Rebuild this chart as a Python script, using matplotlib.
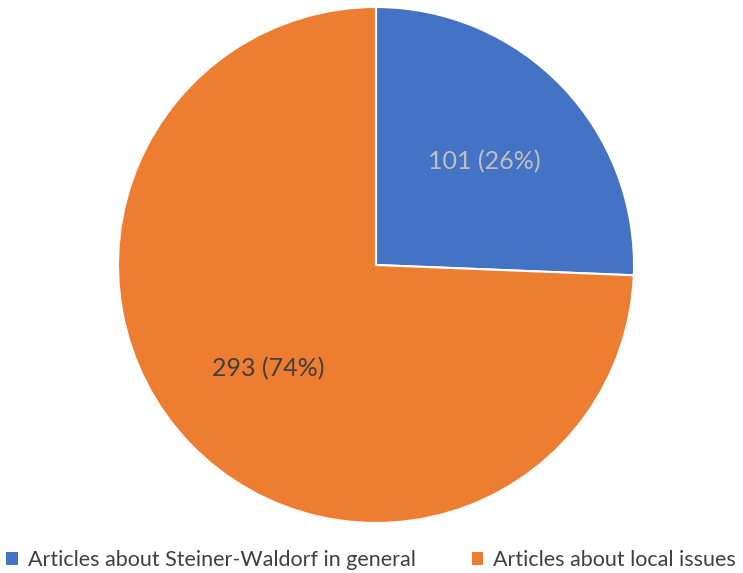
import matplotlib
matplotlib.use("Agg")
from matplotlib import pyplot as plt

plt.rcParams['font.family'] = ['Lato', 'DejaVu Sans']

labels = ['Articles about Steiner-Waldorf in general', 'Articles about local issues']
counts = [101, 293]
colors = ['#4472c4', '#ed7d31']
text_colors = ['#bfbfbf', '#404040']

fig = plt.figure(figsize=(7.43, 5.73), dpi=100)
ax = fig.add_axes([118 / 743, 50 / 573, 516 / 743, 516 / 573])

total = sum(counts)
wedges, texts, autotexts = ax.pie(
    counts, colors=colors, startangle=90, counterclock=False,
    autopct=lambda p: '%d (%d%%)' % (round(p * total / 100), round(p)),
    pctdistance=0.58, wedgeprops=dict(edgecolor='white', linewidth=1.5),
    textprops=dict(fontsize=18))
for t, c in zip(autotexts, text_colors):
    t.set_color(c)
ax.set_xlim(-1, 1)
ax.set_ylim(-1, 1)
ax.set_aspect('equal')

fig.legend(wedges, labels, loc='center', bbox_to_anchor=(371 / 743, 13 / 573),
           ncol=2, frameon=False, fontsize=15.5, handlelength=0.55, handleheight=0.55,
           handletextpad=0.45, columnspacing=2.6, labelcolor='#404040',
           borderpad=0, borderaxespad=0)
for h in fig.legends[0].legend_handles:
    h.set_edgecolor('none')

fig.savefig('out.png', dpi=100)
